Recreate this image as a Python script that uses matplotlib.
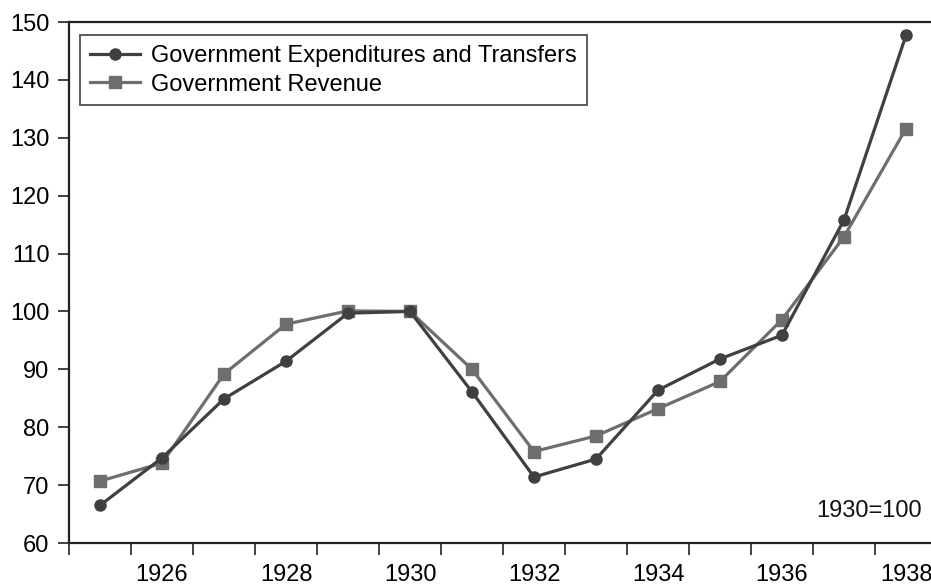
import numpy as np
import matplotlib
matplotlib.use("Agg")
import matplotlib.pyplot as plt

plt.rcParams['font.family'] = ['Liberation Sans', 'DejaVu Sans']

# ----------------------------
# Data (index, 1930 = 100)
# ----------------------------
years = [1925, 1926, 1927, 1928, 1929, 1930, 1931,
         1932, 1933, 1934, 1935, 1936, 1937, 1938]
expenditures = [66.5, 74.7, 84.9, 91.4, 99.7, 100.0, 86.1,
                71.4, 74.5, 86.4, 91.8, 95.9, 115.8, 147.7]
revenue = [70.7, 73.8, 89.2, 97.8, 100.1, 100.0, 90.0,
           75.8, 78.5, 83.2, 87.9, 98.6, 112.9, 131.6]
tick_years = [1926, 1928, 1930, 1932, 1934, 1936, 1938]

# ----------------------------
# Figure
# ----------------------------
fig = plt.figure(figsize=(9.31, 5.85), dpi=100)
ax = fig.add_axes([69/931, 42/585, (937-69)/931, (543-22)/585])

x = np.arange(len(years))

ax.plot(x, expenditures, color='#404040', linewidth=2.3, marker='o',
        markersize=8, label="Government Expenditures and Transfers", zorder=3)
ax.plot(x, revenue, color='#6e6e6e', linewidth=2.3, marker='s',
        markersize=8.5, label="Government Revenue", zorder=2)

ax.set_xlim(-0.5, len(years) - 0.5)
ax.set_ylim(60, 150)
ax.set_yticks(np.arange(60, 151, 10))

# category axis: ticks on boundaries, labels in the middle
ax.set_xticks(np.arange(-0.5, len(years), 1.0), minor=True)
ax.set_xticks([years.index(y) for y in tick_years])
ax.set_xticklabels([str(y) for y in tick_years])
ax.tick_params(axis='x', which='major', length=0, pad=15, labelsize=17)
ax.tick_params(axis='x', which='minor', length=8.5, width=1.2, direction='out',
               color='#222222')
ax.tick_params(axis='y', length=8, width=1.2, direction='out', labelsize=17,
               color='#222222', pad=6)

for side in ['left', 'top', 'bottom']:
    ax.spines[side].set_linewidth(1.6)
    ax.spines[side].set_color('#222222')
ax.spines['right'].set_visible(False)

leg = ax.legend(loc='upper left', bbox_to_anchor=(0.0127, 0.975), fontsize=17,
                frameon=True, fancybox=False, edgecolor='#222222',
                handlelength=2.1, handletextpad=0.5, borderpad=0.42,
                labelspacing=0.28, borderaxespad=0)
leg.get_frame().set_linewidth(1.3)

ax.text(0.9827, 0.0605, "1930=100", transform=ax.transAxes, ha='right',
        va='center', fontsize=17, color='#111111')

fig.savefig("out.png", dpi=100)
